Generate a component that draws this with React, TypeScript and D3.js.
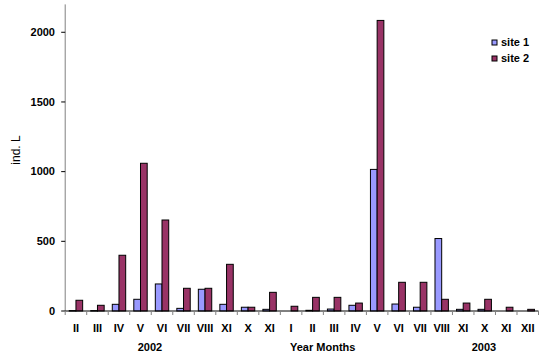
import React from "react";
import * as d3 from "d3";

const months = ["II","III","IV","V","VI","VII","VIII","XI","X","XI","I","II","III","IV","V","VI","VII","VIII","XI","X","XI","XII"];
const site1 = [3,3,48,84,194,19,156,48,27,12,0,5,14,41,1016,50,27,520,12,12,0,0];
const site2 = [77,41,400,1060,653,163,163,335,27,134,34,98,98,57,2085,206,206,84,57,84,27,12];
const seriesNames = ["site 1", "site 2"];
const colors = ["#9999FF", "#993366"];
const yTicks = [0, 500, 1000, 1500, 2000];
const years = [{ label: "2002", x: 150 }, { label: "2003", x: 484 }];
const xTitle = "Year Months";
const yTitle = "ind. L";

const W = 543, H = 359;
const x0 = 65.2, x1 = 538.5, yBase = 311, yTop = 4.4;
const font = "'Liberation Sans', Arial, sans-serif";

export default function App() {
  const idx = months.map((_, i) => i);
  const x = d3.scaleBand<number>().domain(idx).range([x0, x1]).paddingInner(0).paddingOuter(0);
  const y = d3.scaleLinear().domain([0, 2200]).range([yBase, yTop]);
  const barW = 6.7;
  const step = x.step();
  const series = [site1, site2];

  return (
    <svg width={W} height={H} style={{ position: "absolute", left: 0, top: 0, background: "#fff" }}
      fontFamily={font} fontWeight="bold" fontSize={11}>
      <rect x={0} y={0} width={W} height={H} fill="#fff" />
      {series.map((vals, s) =>
        vals.map((v, i) => {
          if (v <= 0) return null;
          const cx = (x(i) as number) + step / 2;
          const bx = cx - barW + s * barW;
          const top = y(v);
          return (
            <rect key={`${s}-${i}`} x={bx} y={top} width={barW} height={Math.max(yBase - top, 0.5)}
              fill={colors[s]} stroke="#000" strokeWidth={1} />
          );
        })
      )}
      <line x1={x0} x2={x0} y1={yTop} y2={yBase} stroke="#808080" strokeWidth={1} />
      {yTicks.map((t) => (
        <g key={t}>
          <line x1={x0 - 4} x2={x0} y1={y(t)} y2={y(t)} stroke="#000" strokeWidth={1} />
          <text x={55} y={y(t)} dy="0.35em" textAnchor="end" fill="#000">{t}</text>
        </g>
      ))}
      <text transform={`translate(20,150) rotate(-90)`} textAnchor="middle" fill="#000" fontWeight="normal" fontSize={12}>{yTitle}</text>
      <line x1={x0} x2={x1} y1={yBase} y2={yBase} stroke="#000" strokeWidth={1} />
      {d3.range(months.length + 1).map((i) => {
        const tx = x0 + i * step;
        return <line key={i} x1={tx} x2={tx} y1={yBase} y2={yBase + 4} stroke="#808080" strokeWidth={1} />;
      })}
      {months.map((m, i) => (
        <text key={i} x={(x(i) as number) + step / 2} y={332} textAnchor="middle" fill="#000">{m}</text>
      ))}
      {years.map((yr) => (
        <text key={yr.label} x={yr.x} y={351} textAnchor="middle" fill="#000">{yr.label}</text>
      ))}
      <text x={290} y={351} fill="#000">{xTitle}</text>
      {seriesNames.map((n, i) => (
        <g key={n} transform={`translate(492,${40 + i * 16})`}>
          <rect x={0} y={0} width={5} height={5} fill={colors[i]} stroke="#000" strokeWidth={1} />
          <text x={9} y={2.5} dy="0.35em" fill="#000">{n}</text>
        </g>
      ))}
    </svg>
  );
}
